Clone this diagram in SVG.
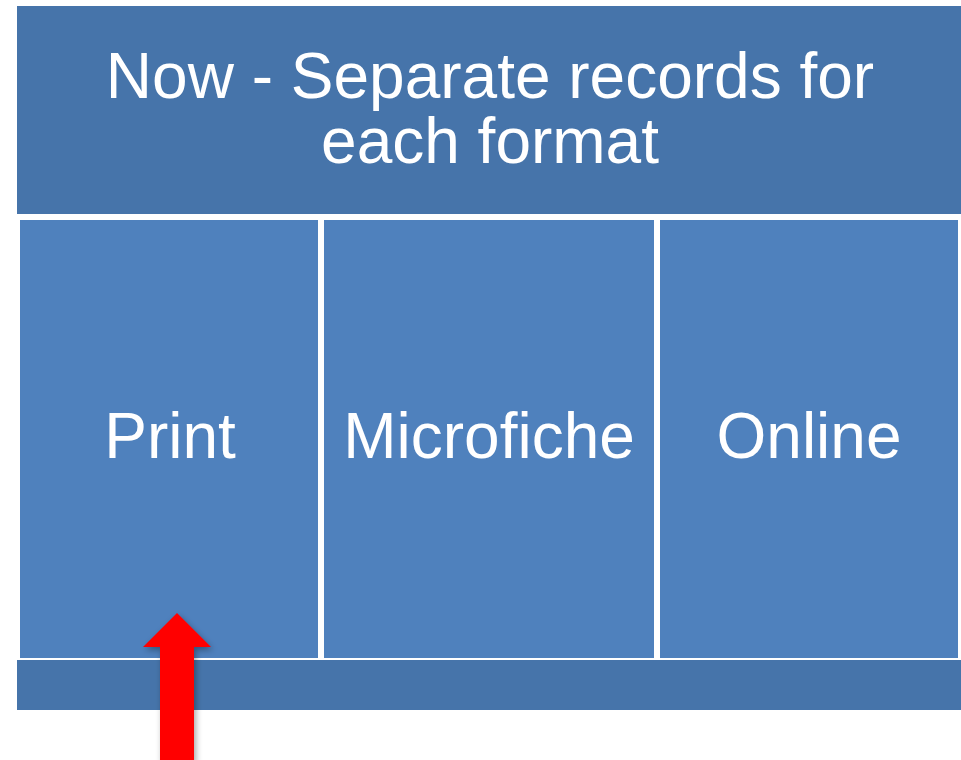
<svg xmlns="http://www.w3.org/2000/svg" width="961" height="760" viewBox="0 0 961 760">
<defs>
<style>
.dark{fill:#4674AA}
.col{fill:#4F81BD}
.t{font-family:"Liberation Sans",Arial,sans-serif;font-size:64px;fill:#FFFFFF;text-anchor:middle}
</style>
<filter id="sh" x="-30%" y="-10%" width="160%" height="130%">
<feGaussianBlur in="SourceAlpha" stdDeviation="3"/>
<feOffset dx="2" dy="3" result="b"/>
<feComponentTransfer><feFuncA type="linear" slope="0.35"/></feComponentTransfer>
<feMerge><feMergeNode/><feMergeNode in="SourceGraphic"/></feMerge>
</filter>
</defs>
<rect width="961" height="760" fill="#FFFFFF"/>
<g id="header">
<rect class="dark" x="17" y="6" width="944" height="208"/>
<text class="t" x="490" y="98">Now - Separate records for</text>
<text class="t" x="490" y="163">each format</text>
</g>
<g id="print">
<rect class="col" x="20" y="220" width="298" height="438"/>
<text class="t" x="170" y="458">Print</text>
</g>
<g id="microfiche">
<rect class="col" x="324" y="220" width="330" height="438"/>
<text class="t" x="489" y="458">Microfiche</text>
</g>
<g id="online">
<rect class="col" x="660" y="220" width="298" height="438"/>
<text class="t" x="809" y="458">Online</text>
</g>
<g id="footer">
<rect class="dark" x="17" y="660" width="944" height="50"/>
</g>
<g id="connectors">
<polygon points="177,613 211,647 194,647 194,762 160,762 160,647 143,647" fill="#FF0000" filter="url(#sh)"/>
</g>
</svg>
